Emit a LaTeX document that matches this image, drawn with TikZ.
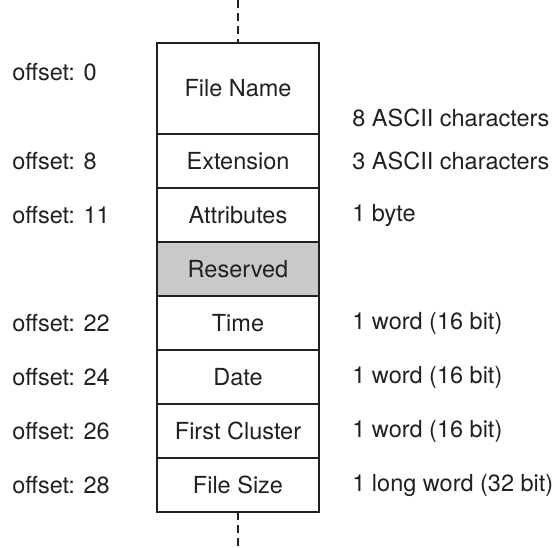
\documentclass[tikz,border=0pt]{standalone}
\usepackage{fontspec}
\setmainfont{TeX Gyre Heros}
\usetikzlibrary{positioning}

\begin{document}
\begin{tikzpicture}[x=0.5pt, y=-0.5pt, font=\fontsize{11.75}{14}\selectfont]
	\definecolor{inkdark}{RGB}{35,31,32}
	\definecolor{resgray}{RGB}{200,201,203}
	\tikzset{
		field/.style={draw=inkdark, line width=0.7pt, minimum width=81pt, minimum height=27pt,
			inner sep=0pt, outer sep=0pt, text=inkdark},
		offs/.style={anchor=west, inner sep=0pt, text=inkdark},
		sizetxt/.style={anchor=west, inner sep=0pt, text=inkdark},
	}
	\useasboundingbox (0,0) rectangle (559,548);
	
	% the directory entry fields
	\node[field, minimum height=45.5pt] (name) at (238,88.5) {File Name};
	\node[field, below=0pt of name] (ext) {Extension};
	\node[field, below=0pt of ext] (attr) {Attributes};
	\node[field, fill=resgray, below=0pt of attr] (res) {Reserved};
	\node[field, below=0pt of res] (time) {Time};
	\node[field, below=0pt of time] (date) {Date};
	\node[field, below=0pt of date] (clus) {First Cluster};
	\node[field, below=0pt of clus] (fsize) {File Size};
	
	% dashed continuation above and below
	\coordinate (topend) at (238,0);
	\coordinate (botend) at (238,548);
	\draw[inkdark, line width=0.7pt, dash pattern=on 4pt off 2.5pt] (topend) -- (name.north);
	\draw[inkdark, line width=0.7pt, dash pattern=on 4pt off 2.5pt] (fsize.south) -- (botend);
	
	% offsets on the left
	\node[offs] (o0) at (12,72) {offset: 0};
	\node[offs] (o8) at (12,161) {offset: 8};
	\node[offs] (o11) at (12,215) {offset: 11};
	\node[offs] (o22) at (12,323) {offset: 22};
	\node[offs] (o24) at (12,377) {offset: 24};
	\node[offs] (o26) at (12,431) {offset: 26};
	\node[offs] (o28) at (12,485) {offset: 28};
	
	% sizes on the right
	\node[sizetxt] (s0) at (352,118) {8 ASCII characters};
	\node[sizetxt] (s8) at (352,161) {3 ASCII characters};
	\node[sizetxt] (s11) at (352,215) {1 byte};
	\node[sizetxt] (s22) at (352,323) {1 word (16 bit)};
	\node[sizetxt] (s24) at (352,377) {1 word (16 bit)};
	\node[sizetxt] (s26) at (352,431) {1 word (16 bit)};
	\node[sizetxt] (s28) at (352,485) {1 long word (32 bit)};
\end{tikzpicture}
\end{document}
